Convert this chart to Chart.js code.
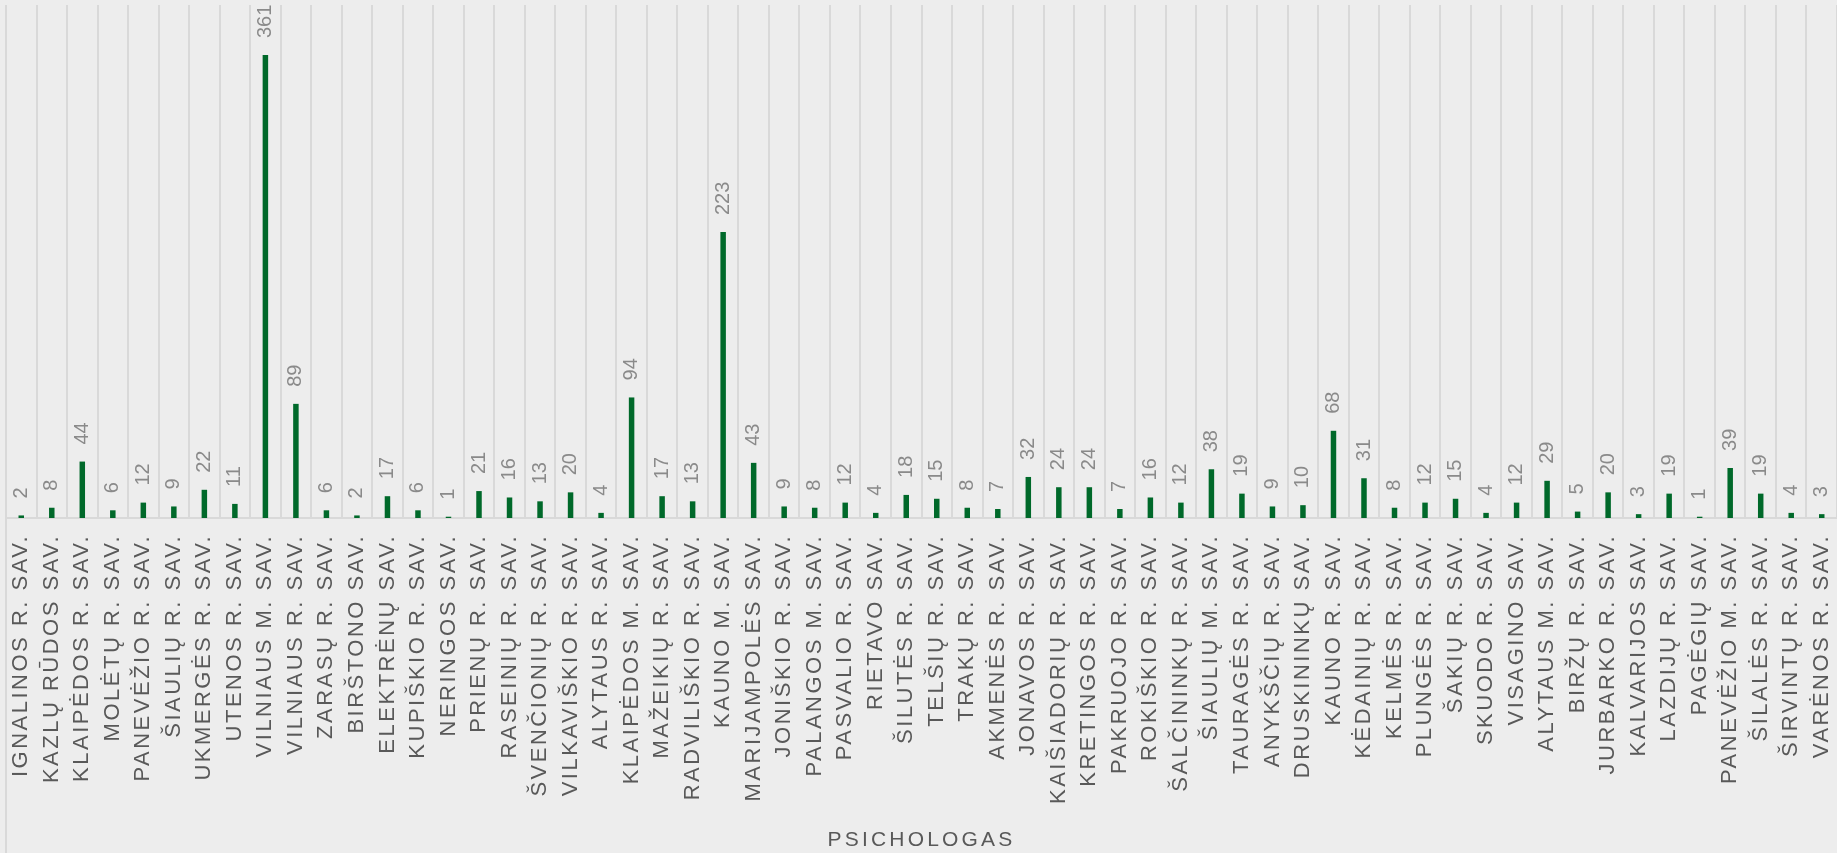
<!DOCTYPE html>
<html>
<head>
<meta charset="utf-8">
<script src="https://cdn.jsdelivr.net/npm/chart.js@4/dist/chart.umd.min.js"></script>
<style>
  html, body { margin: 0; padding: 0; background: #ededed; overflow: hidden; }
  canvas { display: block; }
</style>
</head>
<body>
<canvas id="psyChart" width="1837" height="853"></canvas>
<script>
// Savivaldybės (kategorijos)
const municipalities = [
  "IGNALINOS R. SAV.", "KAZLŲ RŪDOS SAV.", "KLAIPĖDOS R. SAV.", "MOLĖTŲ R. SAV.", "PANEVĖŽIO R. SAV.",
  "ŠIAULIŲ R. SAV.", "UKMERGĖS R. SAV.", "UTENOS R. SAV.", "VILNIAUS M. SAV.", "VILNIAUS R. SAV.",
  "ZARASŲ R. SAV.", "BIRŠTONO SAV.", "ELEKTRĖNŲ SAV.", "KUPIŠKIO R. SAV.", "NERINGOS SAV.",
  "PRIENŲ R. SAV.", "RASEINIŲ R. SAV.", "ŠVENČIONIŲ R. SAV.", "VILKAVIŠKIO R. SAV.", "ALYTAUS R. SAV.",
  "KLAIPĖDOS M. SAV.", "MAŽEIKIŲ R. SAV.", "RADVILIŠKIO R. SAV.", "KAUNO M. SAV.", "MARIJAMPOLĖS SAV.",
  "JONIŠKIO R. SAV.", "PALANGOS M. SAV.", "PASVALIO R. SAV.", "RIETAVO SAV.", "ŠILUTĖS R. SAV.",
  "TELŠIŲ R. SAV.", "TRAKŲ R. SAV.", "AKMENĖS R. SAV.", "JONAVOS R. SAV.", "KAIŠIADORIŲ R. SAV.",
  "KRETINGOS R. SAV.", "PAKRUOJO R. SAV.", "ROKIŠKIO R. SAV.", "ŠALČININKŲ R. SAV.", "ŠIAULIŲ M. SAV.",
  "TAURAGĖS R. SAV.", "ANYKŠČIŲ R. SAV.", "DRUSKININKŲ SAV.", "KAUNO R. SAV.", "KĖDAINIŲ R. SAV.",
  "KELMĖS R. SAV.", "PLUNGĖS R. SAV.", "ŠAKIŲ R. SAV.", "SKUODO R. SAV.", "VISAGINO SAV.",
  "ALYTAUS M. SAV.", "BIRŽŲ R. SAV.", "JURBARKO R. SAV.", "KALVARIJOS SAV.", "LAZDIJŲ R. SAV.",
  "PAGĖGIŲ SAV.", "PANEVĖŽIO M. SAV.", "ŠILALĖS R. SAV.", "ŠIRVINTŲ R. SAV.", "VARĖNOS R. SAV."
];

// Psichologų skaičius
const psychologists = [
  2, 8, 44, 6, 12,
  9, 22, 11, 361, 89,
  6, 2, 17, 6, 1,
  21, 16, 13, 20, 4,
  94, 17, 13, 223, 43,
  9, 8, 12, 4, 18,
  15, 8, 7, 32, 24,
  24, 7, 16, 12, 38,
  19, 9, 10, 68, 31,
  8, 12, 15, 4, 12,
  29, 5, 20, 3, 19,
  1, 39, 19, 4, 3
];

const axisTitle = "PSICHOLOGAS";
const yMin = 0;
const yMax = 400;

const FONT = "'Liberation Sans', Arial, sans-serif";
const gridColor = "#d9d9d9";

// letter spacing is not a Chart.js option, so set it on the context per draw phase
const spacingPlugin = {
  id: "spacing",
  beforeDraw(chart) {
    chart.ctx.letterSpacing = "3.2px"; // axis title
  },
  afterDatasetsDraw(chart) {
    const ctx = chart.ctx;
    const meta = chart.getDatasetMeta(0);

    // value labels above bars
    ctx.save();
    ctx.letterSpacing = "0px";
    ctx.font = "20px " + FONT;
    ctx.fillStyle = "#8a8a8a";
    ctx.textAlign = "left";
    ctx.textBaseline = "middle";
    meta.data.forEach((bar, i) => {
      ctx.save();
      ctx.translate(bar.x, bar.y - 17);
      ctx.rotate(-Math.PI / 2);
      ctx.fillText(String(psychologists[i]), 0, 0);
      ctx.restore();
    });
    ctx.restore();

    // left border line runs down through the label area
    const area = chart.chartArea;
    ctx.save();
    ctx.strokeStyle = gridColor;
    ctx.lineWidth = 2;
    ctx.beginPath();
    ctx.moveTo(area.left, area.top);
    ctx.lineTo(area.left, chart.height);
    ctx.stroke();
    ctx.restore();

    ctx.letterSpacing = "2.5px"; // category tick labels (drawn in a later layer)
  },
  afterDraw(chart) {
    chart.ctx.letterSpacing = "0px";
  }
};

new Chart(document.getElementById("psyChart").getContext("2d"), {
  type: "bar",
  data: {
    labels: municipalities,
    datasets: [{
      label: axisTitle,
      data: psychologists,
      backgroundColor: "#00692a",
      borderWidth: 0,
      barPercentage: 0.18,
      categoryPercentage: 1
    }]
  },
  options: {
    responsive: false,
    devicePixelRatio: 1,
    animation: false,
    layout: { padding: { left: 6, top: 5, right: -6, bottom: 0 } },
    plugins: {
      legend: { display: false },
      tooltip: { enabled: false }
    },
    scales: {
      x: {
        grid: { offset: true, color: gridColor, lineWidth: 2, drawTicks: false },
        border: { display: true, color: gridColor, width: 2 },
        ticks: {
          autoSkip: false,
          minRotation: 90,
          maxRotation: 90,
          padding: 16,
          color: "#595959",
          font: { family: FONT, size: 22 },
          z: 1
        },
        title: {
          display: true,
          text: axisTitle,
          color: "#595959",
          font: { family: FONT, size: 21 },
          padding: { top: 0, bottom: 0 }
        },
        afterFit(scale) {
          scale.height = 335;
          scale.paddingLeft = 0;
          scale.paddingRight = 0;
        }
      },
      y: {
        display: false,
        min: yMin,
        max: yMax
      }
    }
  },
  plugins: [spacingPlugin]
});
</script>
</body>
</html>
